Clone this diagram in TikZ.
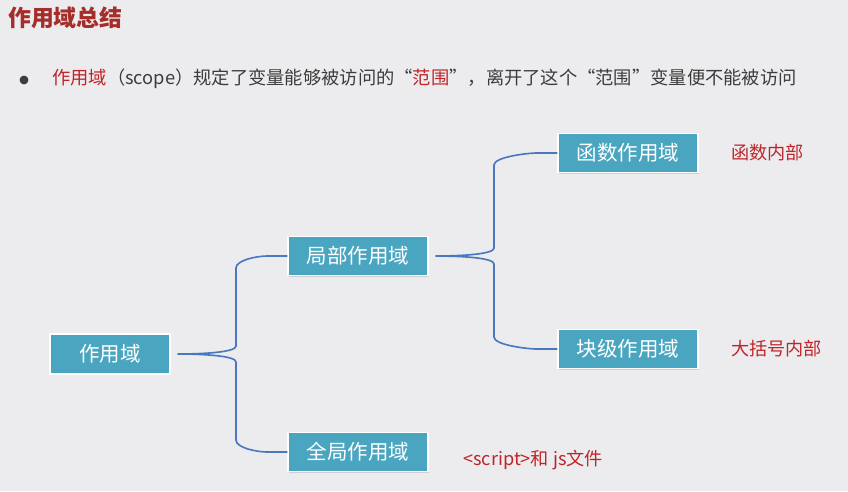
\documentclass[tikz,border=0pt]{standalone}
\usepackage{fontspec}
\setmainfont{Noto Sans CJK SC}
\usetikzlibrary{shadows,calc}

\definecolor{bggray}{RGB}{236,236,238}
\definecolor{boxteal}{RGB}{74,166,192}
\definecolor{linkblue}{RGB}{74,120,190}
\definecolor{titlered}{RGB}{166,46,42}
\definecolor{notered}{RGB}{192,36,40}
\definecolor{textgray}{RGB}{60,60,60}

\tikzset{
    scopebox/.style={fill=boxteal, draw=white, line width=1.2pt, text=white,
        font=\fontsize{17.5}{20}\selectfont, minimum width=4.2cm, minimum height=1.17cm,
        inner sep=0pt, drop shadow={opacity=0.25, shadow xshift=1pt, shadow yshift=-1.2pt}},
    link/.style={draw=linkblue, line width=1.4pt},
    note/.style={text=notered, anchor=west, inner sep=0pt, font=\fontsize{15.5}{18}\selectfont}
}

\begin{document}
\begin{tikzpicture}[x=0.03cm, y=-0.03cm]
    % background
    \fill[bggray] (0,0) rectangle (848,491);

    % title and bullet line
    \node[anchor=west, inner sep=0pt, text=titlered, font=\fontsize{19.5}{22}\selectfont\bfseries] (title) at (8,18) {作用域总结};
    \fill[textgray] (24,80) circle (3.8pt);
    \node[anchor=west, inner sep=0pt, text=textgray, font=\fontsize{15.6}{18}\selectfont] (intro) at (52,79)
        {\textcolor{notered}{作用域}（scope）规定了变量能够被访问的“\textcolor{notered}{范围}”，离开了这个“范围”变量便不能被访问};

    % scope boxes
    \node[scopebox, minimum width=3.6cm, minimum height=1.2cm] (root) at (110,354) {作用域};
    \node[scopebox] (local) at (358,256) {局部作用域};
    \node[scopebox] (global) at (358,452) {全局作用域};
    \node[scopebox] (func) at (628,153) {函数作用域};
    \node[scopebox] (block) at (628,349) {块级作用域};

    % braces (y axis points down)
    \coordinate (fork1) at (236,354);
    \coordinate (fork2) at (494,256);
    \draw[link, shorten <=6pt] (root.east) .. controls +(35,0) and +(0,6) .. ($(fork1)+(0,-8)$)
        -- ($(fork1 |- local.west)+(0,12)$) .. controls +(0,-8) and +(-10,0) .. ($(local.west)+(-20,0)$) -- (local.west);
    \draw[link, shorten <=6pt] (root.east) .. controls +(35,0) and +(0,-6) .. ($(fork1)+(0,8)$)
        -- ($(fork1 |- global.west)+(0,-12)$) .. controls +(0,8) and +(-10,0) .. ($(global.west)+(-20,0)$) -- (global.west);
    \draw[link, shorten <=6pt] (local.east) .. controls +(35,0) and +(0,6) .. ($(fork2)+(0,-8)$)
        -- ($(fork2 |- func.west)+(0,12)$) .. controls +(0,-8) and +(-10,0) .. ($(func.west)+(-20,0)$) -- (func.west);
    \draw[link, shorten <=6pt] (local.east) .. controls +(35,0) and +(0,-6) .. ($(fork2)+(0,8)$)
        -- ($(fork2 |- block.west)+(0,-12)$) .. controls +(0,8) and +(-10,0) .. ($(block.west)+(-20,0)$) -- (block.west);

    % notes
    \node[note] (funcnote) at (731,153) {函数内部};
    \node[note] (blocknote) at (731,349) {大括号内部};
    \node[note] (globalnote) at (463,460) {<script>和 js文件};
\end{tikzpicture}
\end{document}
